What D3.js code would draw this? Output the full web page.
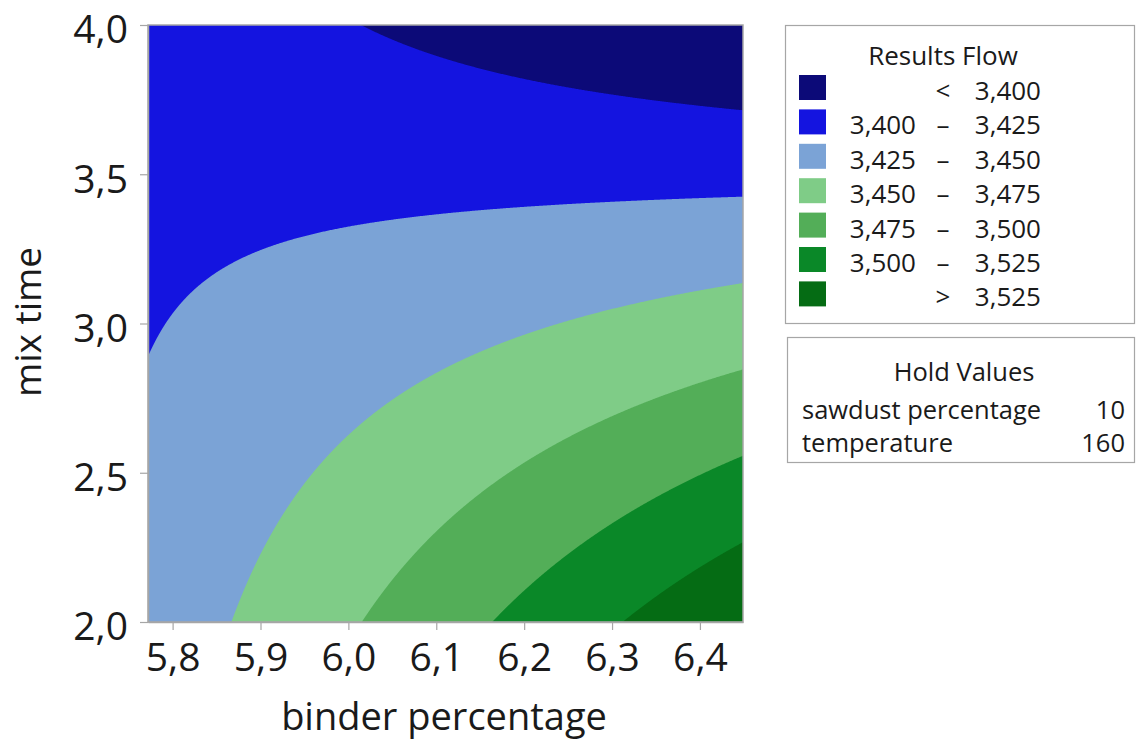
<!DOCTYPE html>
<html>
<head>
<meta charset="utf-8">
<script src="https://cdn.jsdelivr.net/npm/d3@7"></script>
<style>
  body { margin: 0; background: #ffffff; }
  text { font-family: "Open Sans", "Noto Sans", sans-serif; fill: #1a1a1a; }
</style>
</head>
<body>
<svg id="chart" width="1137" height="740"></svg>
<script>
// Fitted response surface for Flow (hold values: sawdust percentage 10, temperature 160)
const binderDomain = [5.772, 6.449];
const mixTimeDomain = [2.0, 4.0];
const modelTerms = ["Constant", "binder percentage", "mix time", "binder percentage*mix time"];
const modelCoefs = [1.18114, 0.39382, 0.64007, -0.112647];

// Contour levels and band colours (lowest band first)
const flowBreaks = [3.400, 3.425, 3.450, 3.475, 3.500, 3.525];
const bandColors = ["#0c0a78", "#1414e0", "#7ba3d6", "#7fcc87", "#53ae58", "#0a8828", "#056c14"];

// Axis ticks
const xTickValues = [5.8, 5.9, 6.0, 6.1, 6.2, 6.3, 6.4];
const yTickValues = [2.0, 2.5, 3.0, 3.5, 4.0];

// Hold values table
const holdNames = ["sawdust percentage", "temperature"];
const holdValues = [10, 160];

const locale = d3.formatLocale({ decimal: ",", thousands: ".", grouping: [3], currency: ["", ""] });
const fmt1 = locale.format(".1f");
const fmt3 = locale.format(".3f");

const svg = d3.select("#chart");
const plot = { left: 148, right: 743, top: 25, bottom: 622 };

const x = d3.scaleLinear().domain(binderDomain).range([plot.left, plot.right]);
const y = d3.scaleLinear().domain(mixTimeDomain).range([plot.bottom, plot.top]);

function flow(b, m) {
  const terms = [1, b, m, b * m];
  return d3.sum(terms, (t, i) => t * modelCoefs[i]);
}

// Sample the surface on a pixel grid (with a small margin) and trace the bands
const pad = 2;
const nx = Math.round(plot.right - plot.left) + 2 * pad;
const ny = Math.round(plot.bottom - plot.top) + 2 * pad;
const grid = new Float64Array(nx * ny);
for (let j = 0; j < ny; j++) {
  const mv = y.invert(plot.top - pad + j + 0.5);
  for (let i = 0; i < nx; i++) {
    const bv = x.invert(plot.left - pad + i + 0.5);
    grid[j * nx + i] = flow(bv, mv);
  }
}
const bands = d3.contours().size([nx, ny]).thresholds(flowBreaks)(grid);
const gridToPx = d3.geoTransform({
  point(px, py) { this.stream.point(plot.left - pad + px, plot.top - pad + py); }
});
const path = d3.geoPath(gridToPx);

svg.append("defs").append("clipPath").attr("id", "plotClip")
  .append("rect")
  .attr("x", plot.left).attr("y", plot.top)
  .attr("width", plot.right - plot.left).attr("height", plot.bottom - plot.top);

const surface = svg.append("g").attr("clip-path", "url(#plotClip)");
surface.append("rect")
  .attr("x", plot.left).attr("y", plot.top)
  .attr("width", plot.right - plot.left).attr("height", plot.bottom - plot.top)
  .attr("fill", bandColors[0]);
surface.selectAll("path.band")
  .data(bands)
  .join("path")
  .attr("class", "band")
  .attr("d", path)
  .attr("fill", (d, i) => bandColors[i + 1]);

// Frame
svg.append("rect")
  .attr("x", plot.left).attr("y", plot.top)
  .attr("width", plot.right - plot.left).attr("height", plot.bottom - plot.top)
  .attr("fill", "none").attr("stroke", "#a6a6a6").attr("stroke-width", 1.5);

// Axes
const xAxis = svg.append("g")
  .attr("transform", `translate(0,${plot.bottom})`)
  .call(d3.axisBottom(x).tickValues(xTickValues).tickFormat(fmt1).tickSize(8).tickSizeOuter(0).tickPadding(13));
const yAxis = svg.append("g")
  .attr("transform", `translate(${plot.left},0)`)
  .call(d3.axisLeft(y).tickValues(yTickValues).tickFormat(fmt1).tickSize(8).tickSizeOuter(0).tickPadding(12));
[xAxis, yAxis].forEach(g => {
  g.select(".domain").attr("stroke", "#a6a6a6").attr("stroke-width", 1.5);
  g.selectAll(".tick line").attr("stroke", "#a6a6a6").attr("stroke-width", 1.2);
  g.selectAll(".tick text")
    .style("font-family", '"Open Sans", "Noto Sans", sans-serif')
    .style("font-size", "39px").attr("fill", "#1a1a1a");
});
yAxis.selectAll(".tick text").attr("dy", "0.46em");

// Axis titles
svg.append("text")
  .attr("x", 444).attr("y", 730)
  .attr("text-anchor", "middle")
  .style("font-size", "38px")
  .text("binder percentage");
svg.append("text")
  .attr("transform", `translate(41,322) rotate(-90)`)
  .attr("text-anchor", "middle")
  .style("font-size", "37px")
  .text("mix time");

// Legend
const legend = svg.append("g");
legend.append("rect")
  .attr("x", 785.5).attr("y", 25.5).attr("width", 349).attr("height", 298)
  .attr("fill", "#fff").attr("stroke", "#a6a6a6").attr("stroke-width", 1.2);
legend.append("text")
  .attr("x", 943).attr("y", 65).attr("text-anchor", "middle")
  .style("font-size", "26px").text("Results Flow");

const legendRows = bandColors.map((c, i) => {
  if (i === 0) return { color: c, lo: "", sep: "<", hi: fmt3(flowBreaks[0]) };
  if (i === bandColors.length - 1) return { color: c, lo: "", sep: ">", hi: fmt3(flowBreaks[i - 1]) };
  return { color: c, lo: fmt3(flowBreaks[i - 1]), sep: "–", hi: fmt3(flowBreaks[i]) };
});
const row = legend.selectAll("g.row").data(legendRows).join("g")
  .attr("class", "row")
  .attr("transform", (d, i) => `translate(0,${75 + i * 34.4})`);
row.append("rect").attr("x", 799).attr("y", 0).attr("width", 27).attr("height", 25).attr("fill", d => d.color);
row.append("text").attr("x", 916).attr("y", 25).attr("text-anchor", "end").style("font-size", "26px").text(d => d.lo);
row.append("text").attr("x", 943).attr("y", 25).attr("text-anchor", "middle").style("font-size", "26px").text(d => d.sep);
row.append("text").attr("x", 1041).attr("y", 25).attr("text-anchor", "end").style("font-size", "26px").text(d => d.hi);

// Hold values box
const hold = svg.append("g");
hold.append("rect")
  .attr("x", 787.5).attr("y", 337.5).attr("width", 347).attr("height", 125)
  .attr("fill", "#fff").attr("stroke", "#a6a6a6").attr("stroke-width", 1.2);
hold.append("text").attr("x", 964).attr("y", 381).attr("text-anchor", "middle")
  .style("font-size", "25.5px").text("Hold Values");
holdNames.forEach((name, i) => {
  hold.append("text").attr("x", 802).attr("y", 419 + i * 33).style("font-size", "25.5px").text(name);
  hold.append("text").attr("x", 1125).attr("y", 419 + i * 33).attr("text-anchor", "end")
    .style("font-size", "25.5px").text(holdValues[i]);
});
</script>
</body>
</html>
